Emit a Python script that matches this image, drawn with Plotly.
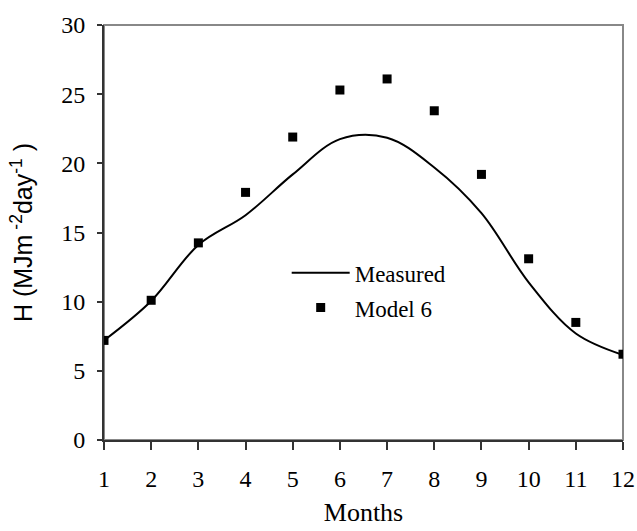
import plotly.graph_objects as go

months = [1, 2, 3, 4, 5, 6, 7, 8, 9, 10, 11, 12]
measured = [7.2, 10.05, 14.1, 16.25, 19.2, 21.75, 21.85, 19.7, 16.4, 11.4, 7.7, 6.15]
model6 = [7.2, 10.1, 14.25, 17.9, 21.9, 25.3, 26.1, 23.8, 19.2, 13.1, 8.5, 6.2]
x_ticks = list(range(1, 13))
y_ticks = [0, 5, 10, 15, 20, 25, 30]

serif = "Liberation Serif, Times New Roman, serif"
sans = "Liberation Sans, Arial, sans-serif"

fig = go.Figure()
fig.add_trace(go.Scatter(x=months, y=measured, mode="lines", name="Measured", legendgroup="a",
                         line=dict(color="black", width=2, shape="spline", smoothing=1)))
fig.add_trace(go.Scatter(x=months, y=model6, mode="markers", name="Model 6", legendgroup="b",
                         marker=dict(symbol="square", color="black", size=9)))

fig.update_layout(
    width=637, height=531,
    margin=dict(l=104, r=14, t=25, b=91),
    paper_bgcolor="white", plot_bgcolor="white",
    font=dict(family=serif, color="black", size=24),
    showlegend=True,
    legend=dict(x=0.352, y=0.455, xanchor="left", yanchor="top",
                bgcolor="rgba(0,0,0,0)", font=dict(family=serif, size=23),
                itemwidth=58, tracegroupgap=2),
    shapes=[dict(type="rect", xref="x domain", yref="y domain", x0=0, x1=1, y0=0, y1=1,
                 line=dict(color="#888888", width=2), layer="below")],
)
fig.update_xaxes(range=[1, 12], tickvals=x_ticks, ticks="outside", ticklen=8, tickwidth=1.5,
                 tickcolor="#333", showline=True, linecolor="#333", linewidth=2,
                 showgrid=False, zeroline=False, automargin=False,
                 title=dict(text="Months", font=dict(family=serif, size=26), standoff=12),
                 tickfont=dict(family=serif, size=24), ticklabelstandoff=8)
fig.update_yaxes(range=[0, 30], tickvals=y_ticks, ticks="outside", ticklen=5, tickwidth=1.5,
                 tickcolor="#333", showline=True, linecolor="#333", linewidth=2,
                 showgrid=False, zeroline=False, automargin=False,
                 title=dict(text="H (MJm<sup> -2</sup>day<sup>-1</sup> )",
                            font=dict(family=sans, size=25), standoff=21),
                 tickfont=dict(family=serif, size=24), ticklabelstandoff=7)

fig.write_html("out.html", config={"displayModeBar": False},
               post_script="document.body.style.margin='0';")
